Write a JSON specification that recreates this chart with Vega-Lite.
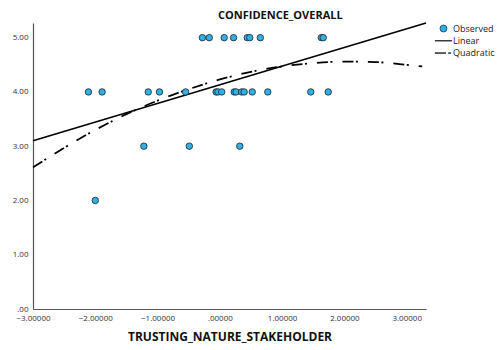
{
  "$schema": "https://vega.github.io/schema/vega-lite/v6.json",
  "width": 393,
  "height": 286,
  "autosize": {"type": "none"},
  "padding": {"left": 33, "top": 23, "right": 75, "bottom": 41},
  "background": "white",
  "config": {
    "view": {"stroke": null},
    "font": "Open Sans"
  },
  "title": {
    "text": "CONFIDENCE_OVERALL",
    "anchor": "start",
    "frame": "group",
    "dx": 185,
    "offset": -1,
    "fontSize": 11,
    "fontWeight": "bold",
    "font": "Open Sans",
    "color": "#111"
  },
  "datasets": {
    "observed": [
      {"x": -0.28, "y": 5, "series": "Observed"},
      {"x": -0.17, "y": 5, "series": "Observed"},
      {"x": 0.07, "y": 5, "series": "Observed"},
      {"x": 0.22, "y": 5, "series": "Observed"},
      {"x": 0.44, "y": 5, "series": "Observed"},
      {"x": 0.48, "y": 5, "series": "Observed"},
      {"x": 0.65, "y": 5, "series": "Observed"},
      {"x": 1.63, "y": 5, "series": "Observed"},
      {"x": 1.66, "y": 5, "series": "Observed"},
      {"x": -2.11, "y": 4, "series": "Observed"},
      {"x": -1.89, "y": 4, "series": "Observed"},
      {"x": -1.15, "y": 4, "series": "Observed"},
      {"x": -0.97, "y": 4, "series": "Observed"},
      {"x": -0.55, "y": 4, "series": "Observed"},
      {"x": -0.06, "y": 4, "series": "Observed"},
      {"x": -0.03, "y": 4, "series": "Observed"},
      {"x": 0.03, "y": 4, "series": "Observed"},
      {"x": 0.23, "y": 4, "series": "Observed"},
      {"x": 0.26, "y": 4, "series": "Observed"},
      {"x": 0.35, "y": 4, "series": "Observed"},
      {"x": 0.39, "y": 4, "series": "Observed"},
      {"x": 0.52, "y": 4, "series": "Observed"},
      {"x": 0.77, "y": 4, "series": "Observed"},
      {"x": 1.46, "y": 4, "series": "Observed"},
      {"x": 1.74, "y": 4, "series": "Observed"},
      {"x": -1.22, "y": 3, "series": "Observed"},
      {"x": -0.49, "y": 3, "series": "Observed"},
      {"x": 0.32, "y": 3, "series": "Observed"},
      {"x": -2.0, "y": 2, "series": "Observed"}
    ],
    "linear": [
      {"x": -3.0, "y": 3.10},
      {"x": 3.31, "y": 5.27}
    ],
    "quadratic": [
      {"x": -3.0, "y": 2.61},
      {"x": -2.5, "y": 2.97},
      {"x": -2.0, "y": 3.30},
      {"x": -1.5, "y": 3.59},
      {"x": -1.0, "y": 3.84},
      {"x": -0.5, "y": 4.05},
      {"x": 0.0, "y": 4.23},
      {"x": 0.5, "y": 4.37},
      {"x": 1.0, "y": 4.47},
      {"x": 1.5, "y": 4.53},
      {"x": 2.0, "y": 4.56},
      {"x": 2.5, "y": 4.55},
      {"x": 3.0, "y": 4.50},
      {"x": 3.25, "y": 4.47}
    ]
  },
  "encoding": {
    "x": {
      "field": "x",
      "type": "quantitative",
      "scale": {"domain": [-3, 3.31], "nice": false, "zero": false},
      "axis": {
        "title": "TRUSTING_NATURE_STAKEHOLDER",
        "values": [-3, -2, -1, 0, 1, 2, 3],
        "labelExpr": "datum.value == 0 ? '.00000' : format(datum.value, '.5f')",
        "ticks": false,
        "grid": false,
        "domainColor": "#555",
        "domainWidth": 1.2,
        "labelFontSize": 8,
        "labelColor": "#333",
        "labelPadding": 5.5,
        "labelFlush": false,
        "titleFontSize": 12,
        "titleFontWeight": "bold",
        "titleColor": "#111",
        "titlePadding": 9
      }
    },
    "y": {
      "field": "y",
      "type": "quantitative",
      "scale": {"domain": [0, 5.27], "nice": false, "zero": false},
      "axis": {
        "title": null,
        "values": [0, 1, 2, 3, 4, 5],
        "labelExpr": "datum.value == 0 ? '.00' : format(datum.value, '.2f')",
        "ticks": false,
        "grid": false,
        "domainColor": "#555",
        "domainWidth": 1.2,
        "labelFontSize": 8,
        "labelColor": "#333",
        "labelPadding": 5
      }
    }
  },
  "layer": [
    {
      "data": {"name": "linear"},
      "mark": {"type": "line", "color": "#000", "strokeWidth": 1.6},
      "encoding": {}
    },
    {
      "data": {"name": "quadratic"},
      "mark": {"type": "line", "color": "#000", "strokeWidth": 1.8, "strokeDash": [11, 2.5, 2, 10], "interpolate": "monotone"},
      "encoding": {}
    },
    {
      "data": {"name": "observed"},
      "mark": {"type": "point", "filled": true, "size": 42, "stroke": "#222", "strokeWidth": 0.8, "opacity": 1},
      "encoding": {
        "fill": {
          "field": "series",
          "type": "nominal",
          "scale": {"domain": ["Observed", "Linear", "Quadratic"], "range": ["#2fb0e6", "#000000", "#000000"]},
          "legend": {
            "title": null,
            "orient": "none",
            "legendX": 406,
            "legendY": 1,
            "padding": 0,
            "symbolSize": 49,
            "symbolStrokeColor": "#222",
            "symbolStrokeWidth": 0.7,
            "labelFontSize": 9,
            "labelColor": "#222",
            "labelOffset": 5,
            "rowPadding": 2.3,
            "labelFont": "Open Sans"
          }
        },
        "shape": {
          "field": "series",
          "type": "nominal",
          "scale": {
            "domain": ["Observed", "Linear", "Quadratic"],
            "range": ["circle", "M-2.4,-0.07H2.4V0.07H-2.4Z", "M-2.4,-0.07H0.7V0.07H-2.4ZM1.4,-0.07H2.1V0.07H1.4Z"]
          }
        }
      }
    }
  ]
}
